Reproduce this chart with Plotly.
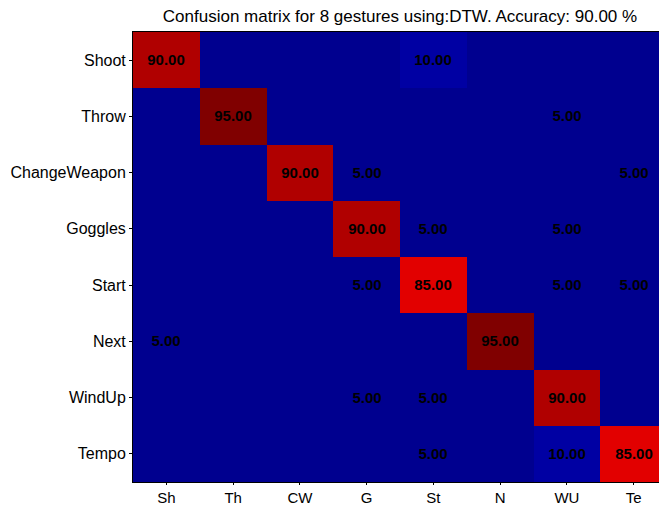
import plotly.graph_objects as go

row_labels = ["Shoot", "Throw", "ChangeWeapon", "Goggles", "Start", "Next", "WindUp", "Tempo"]
col_labels = ["Sh", "Th", "CW", "G", "St", "N", "WU", "Te"]

# confusion matrix values (%), rows = true class, cols = predicted
values = [
    [90, 0, 0, 0, 10, 0, 0, 0],
    [0, 95, 0, 0, 0, 0, 5, 0],
    [0, 0, 90, 5, 0, 0, 0, 5],
    [0, 0, 0, 90, 5, 0, 5, 0],
    [0, 0, 0, 5, 85, 0, 5, 5],
    [5, 0, 0, 0, 0, 95, 0, 0],
    [0, 0, 0, 5, 5, 0, 90, 0],
    [0, 0, 0, 0, 5, 0, 10, 85],
]

text = [["%.2f" % v if v > 0 else "" for v in row] for row in values]

zmax = 95.0
colorscale = [
    [0.0, "rgb(0,0,143)"],
    [5 / zmax, "rgb(0,0,143)"],
    [10 / zmax, "rgb(0,0,163)"],
    [85 / zmax, "rgb(226,0,0)"],
    [90 / zmax, "rgb(176,0,0)"],
    [1.0, "rgb(128,0,0)"],
]

fig = go.Figure(go.Heatmap(
    z=values,
    x=col_labels,
    y=row_labels,
    text=text,
    texttemplate="<b>%{text}</b>",
    textfont=dict(family="Liberation Sans, Arial", size=15, color="black"),
    colorscale=colorscale,
    zmin=0,
    zmax=zmax,
    showscale=False,
    xgap=0,
    ygap=0,
))

# page body has an 8px margin, so the figure is sized/offset to compensate
W, H = 659, 498
fig.update_layout(
    width=W,
    height=H,
    margin=dict(l=125, r=0, t=24, b=24, autoexpand=False),
    paper_bgcolor="white",
    plot_bgcolor="white",
    font=dict(family="Liberation Sans, Arial", size=16, color="black"),
    title=dict(
        text="Confusion matrix for 8 gestures using:DTW. Accuracy: 90.00 %",
        x=392 / W, xanchor="center", y=1 - 8 / H, yanchor="middle",
        font=dict(size=17, color="black"),
    ),
)

fig.update_xaxes(
    automargin=False,
    showline=True, linecolor="black", linewidth=1, mirror=True,
    ticks="outside", ticklen=2, tickcolor="black",
    showgrid=False, zeroline=False,
    tickfont=dict(size=15),
)
fig.update_yaxes(
    automargin=False,
    autorange="reversed",
    showline=True, linecolor="black", linewidth=1, mirror=True,
    ticks="outside", ticklen=3, tickcolor="black",
    showgrid=False, zeroline=False,
    tickfont=dict(size=16),
)

fig.write_html("out.html")
